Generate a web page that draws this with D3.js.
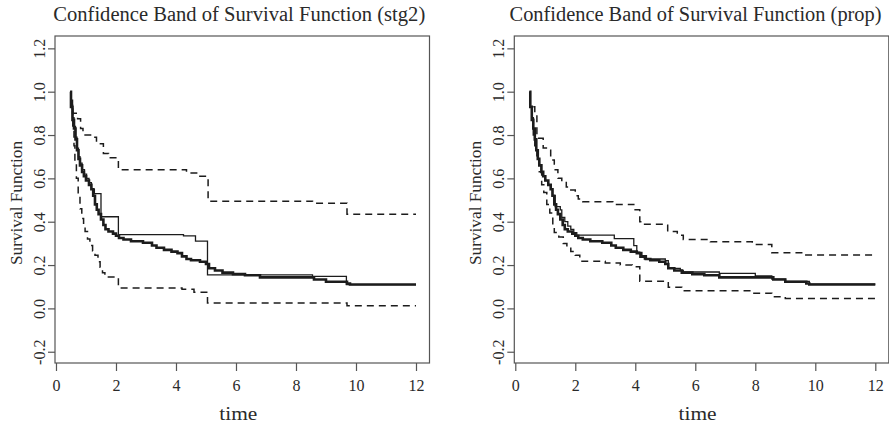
<!DOCTYPE html>
<html>
<head>
<meta charset="utf-8">
<script src="https://cdn.jsdelivr.net/npm/d3@7"></script>
<style>
  body { margin: 0; background: #fff; }
  svg { display: block; }
</style>
</head>
<body>
<div id="chart"></div>
<script>
// data: [time, survival] step points
var timeTicks = [0, 2, 4, 6, 8, 10, 12];
var survTicks = [-0.2, 0, 0.2, 0.4, 0.6, 0.8, 1.0, 1.2];

// Kaplan-Meier estimate (thick line, same in both panels)
var kmEstimate = [
  [0.47, 1.0], [0.5, 0.93], [0.55, 0.87], [0.6, 0.83], [0.65, 0.78], [0.7, 0.73],
  [0.75, 0.69], [0.8, 0.66], [0.87, 0.63], [0.93, 0.61], [1.0, 0.59], [1.1, 0.57],
  [1.18, 0.55], [1.24, 0.52], [1.3, 0.48], [1.36, 0.455], [1.42, 0.435], [1.5, 0.41],
  [1.58, 0.385], [1.65, 0.365], [1.75, 0.355], [1.9, 0.345], [2.0, 0.335], [2.1, 0.325],
  [2.25, 0.318], [2.5, 0.31], [2.9, 0.303], [3.2, 0.29], [3.35, 0.28], [3.6, 0.27],
  [3.85, 0.262], [4.05, 0.255], [4.2, 0.24], [4.35, 0.228], [4.5, 0.222], [4.8, 0.215],
  [5.0, 0.205], [5.1, 0.185], [5.3, 0.175], [5.55, 0.165], [5.9, 0.158], [6.3, 0.153],
  [6.8, 0.143], [8.6, 0.133], [9.0, 0.123], [9.7, 0.115], [9.8, 0.11], [12, 0.11]
];

// stg2 model fit and band
var stg2Fit = [
  [0.47, 1.0], [0.5, 0.94], [0.55, 0.88], [0.6, 0.84], [0.65, 0.79], [0.7, 0.74],
  [0.75, 0.7], [0.8, 0.67], [0.87, 0.64], [0.95, 0.62], [1.02, 0.6], [1.1, 0.58],
  [1.18, 0.55], [1.28, 0.53], [1.5, 0.423], [2.08, 0.34], [4.25, 0.335], [4.65, 0.31],
  [5.05, 0.155], [8.55, 0.148], [9.68, 0.11], [12, 0.11]
];
var stg2Upper = [
  [0.5, 0.96], [0.55, 0.9], [0.72, 0.875], [0.82, 0.83], [0.9, 0.8], [1.2, 0.79],
  [1.35, 0.76], [1.58, 0.715], [1.75, 0.695], [2.08, 0.64], [4.35, 0.625], [4.75, 0.61],
  [5.07, 0.495], [8.55, 0.485], [9.7, 0.435], [12, 0.435]
];
var stg2Lower = [
  [0.52, 0.92], [0.56, 0.83], [0.6, 0.75], [0.63, 0.68], [0.68, 0.6], [0.74, 0.52],
  [0.8, 0.46], [0.86, 0.415], [0.92, 0.38], [0.97, 0.355], [1.05, 0.32], [1.13, 0.29],
  [1.22, 0.265], [1.3, 0.245], [1.4, 0.215], [1.47, 0.19], [1.55, 0.165], [1.63, 0.145],
  [2.08, 0.094], [4.2, 0.088], [4.6, 0.075], [5.05, 0.025], [9.7, 0.012], [12, 0.012]
];

// prop model fit and band
var propFit = [
  [0.47, 1.0], [0.5, 0.93], [0.55, 0.87], [0.6, 0.83], [0.65, 0.78], [0.7, 0.73],
  [0.75, 0.69], [0.8, 0.66], [0.87, 0.63], [0.93, 0.61], [1.0, 0.59], [1.1, 0.57],
  [1.18, 0.55], [1.24, 0.52], [1.33, 0.47], [1.5, 0.455], [1.55, 0.42], [1.65, 0.4],
  [1.75, 0.38], [1.85, 0.365], [1.95, 0.35], [2.05, 0.338], [3.3, 0.322], [3.95, 0.29],
  [4.05, 0.26], [4.15, 0.235], [4.3, 0.228], [5.0, 0.22], [5.1, 0.185], [5.5, 0.175],
  [5.6, 0.168], [6.8, 0.162], [8.0, 0.15], [8.55, 0.135], [9.0, 0.125], [9.8, 0.112],
  [12, 0.112]
];
var propUpper = [
  [0.6, 0.93], [0.65, 0.9], [0.72, 0.8], [0.78, 0.785], [0.93, 0.74], [1.1, 0.73],
  [1.18, 0.685], [1.3, 0.64], [1.42, 0.6], [1.55, 0.585], [1.7, 0.56], [1.8, 0.546],
  [2.0, 0.52], [2.1, 0.505], [2.25, 0.492], [3.25, 0.48], [3.95, 0.455], [4.15, 0.4],
  [4.25, 0.388], [5.08, 0.355], [5.4, 0.338], [5.6, 0.318], [6.5, 0.307], [7.9, 0.295],
  [8.55, 0.257], [9.6, 0.246], [12, 0.246]
];
var propLower = [
  [0.58, 0.88], [0.6, 0.8], [0.65, 0.74], [0.72, 0.7], [0.8, 0.63], [0.88, 0.57],
  [0.95, 0.535], [1.05, 0.48], [1.15, 0.44], [1.25, 0.38], [1.3, 0.35], [1.45, 0.33],
  [1.6, 0.3], [1.72, 0.284], [1.85, 0.262], [2.0, 0.245], [2.15, 0.218], [3.0, 0.21],
  [3.5, 0.2], [3.9, 0.192], [4.15, 0.125], [5.1, 0.098], [5.55, 0.081], [7.9, 0.07],
  [8.55, 0.054], [9.0, 0.046], [12, 0.046]
];

var titles = ["Confidence Band of Survival Function (stg2)", "Confidence Band of Survival Function (prop)"];
var fits = [stg2Fit, propFit];
var uppers = [stg2Upper, propUpper];
var lowers = [stg2Lower, propLower];

//layout constants
var width = 889;
var height = 426;
var boxLefts = [55, 514.3];
var boxW = 374.5;
var boxTop = 36;
var boxBottom = 363;
var font = "'Liberation Serif', 'Times New Roman', serif";
var color_text = "#2a2a2a";
var color_box = "#555";
var color_line = "#1c1c1c";

var svg = d3.select("#chart")
  .append("svg")
  .attr("width", width)
  .attr("height", height);

titles.forEach(function(title, i) {
  var left = boxLefts[i];
  var right = left + boxW;
  var cx = (left + right) / 2 - 4;

  var x = d3.scaleLinear().domain([-0.033, 12.45]).range([left, right]);
  var y = d3.scaleLinear().domain([-0.252, 1.257]).range([boxBottom, boxTop]);

  var g = svg.append("g");

  var line = d3.line()
    .x(function(d) { return x(d[0]); })
    .y(function(d) { return y(d[1]); })
    .curve(d3.curveStepAfter);

  //bands
  [uppers[i], lowers[i]].forEach(function(band) {
    g.append("path")
      .attr("d", line(band))
      .style("fill", "none")
      .style("stroke", color_line)
      .style("stroke-width", 1.5)
      .style("stroke-dasharray", "7,5");
  });

  //model fit
  g.append("path")
    .attr("d", line(fits[i]))
    .style("fill", "none")
    .style("stroke", color_line)
    .style("stroke-width", 1.3);

  //KM estimate
  g.append("path")
    .attr("d", line(kmEstimate))
    .style("fill", "none")
    .style("stroke", color_line)
    .style("stroke-width", 2.6);

  //box
  g.append("rect")
    .attr("x", left)
    .attr("y", boxTop)
    .attr("width", boxW)
    .attr("height", boxBottom - boxTop)
    .style("fill", "none")
    .style("stroke", color_box)
    .style("stroke-width", 1.2);

  //x axis
  var xAxis = g.append("g")
    .attr("transform", "translate(0," + boxBottom + ")")
    .call(d3.axisBottom(x).tickValues(timeTicks).tickSize(8).tickFormat(d3.format("d")));
  xAxis.select(".domain").remove();
  xAxis.selectAll(".tick line").style("stroke", color_box).style("stroke-width", 1.2);
  xAxis.selectAll(".tick text")
    .attr("y", 28)
    .attr("dy", null)
    .style("font-family", font)
    .style("font-size", "16px")
    .style("fill", color_text);

  //y axis
  var yAxis = g.append("g")
    .attr("transform", "translate(" + left + ",0)")
    .call(d3.axisLeft(y).tickValues(survTicks).tickSize(7).tickFormat(function(d) { return d.toFixed(1); }));
  yAxis.select(".domain").remove();
  yAxis.selectAll(".tick line").style("stroke", color_box).style("stroke-width", 1.2);
  yAxis.selectAll(".tick text")
    .attr("x", null)
    .attr("dy", null)
    .attr("transform", "translate(-10,0) rotate(-90)")
    .style("text-anchor", "middle")
    .style("font-family", font)
    .style("font-size", "16px")
    .style("fill", color_text);

  //titles
  g.append("text")
    .attr("x", i == 0 ? cx + 1 : cx - 2)
    .attr("y", 21)
    .attr("textLength", 372)
    .attr("lengthAdjust", "spacingAndGlyphs")
    .style("text-anchor", "middle")
    .style("font-family", font)
    .style("font-size", "20.5px")
    .style("fill", color_text)
    .text(title);

  g.append("text")
    .attr("x", cx)
    .attr("y", 420)
    .attr("textLength", 38)
    .attr("lengthAdjust", "spacingAndGlyphs")
    .style("text-anchor", "middle")
    .style("font-family", font)
    .style("font-size", "19px")
    .style("fill", color_text)
    .text("time");

  g.append("text")
    .attr("transform", "translate(" + (left - 33) + "," + 203 + ") rotate(-90)")
    .attr("textLength", 124)
    .attr("lengthAdjust", "spacingAndGlyphs")
    .style("text-anchor", "middle")
    .style("font-family", font)
    .style("font-size", "17px")
    .style("fill", color_text)
    .text("Survival Function");
});
</script>
</body>
</html>
